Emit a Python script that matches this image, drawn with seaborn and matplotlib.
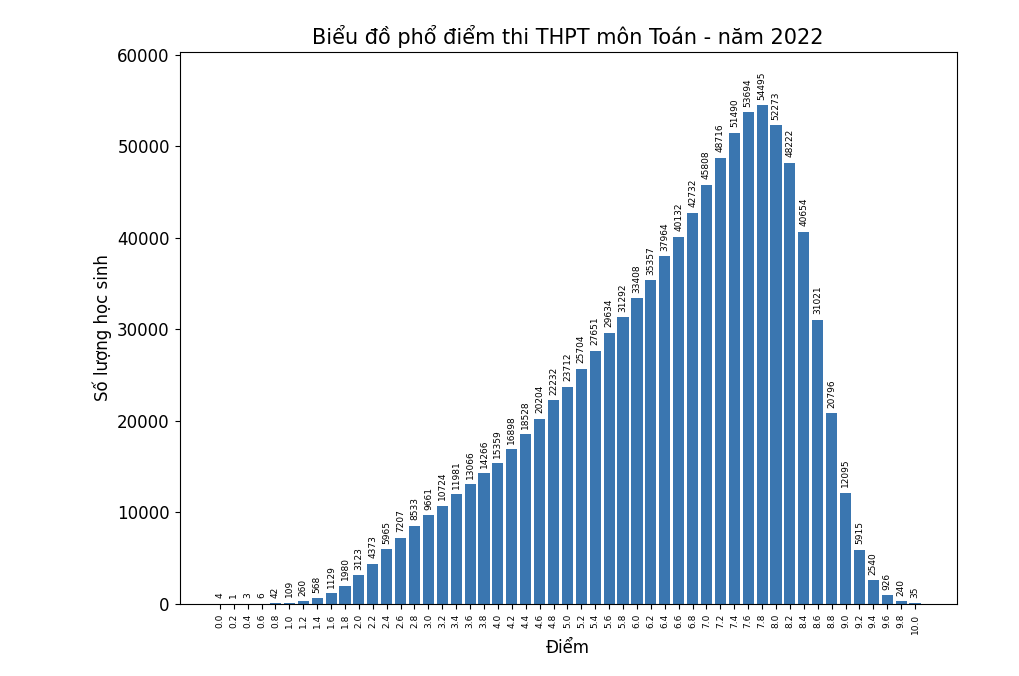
import matplotlib
matplotlib.use("Agg")
import matplotlib.pyplot as plt
import seaborn as sns
import pandas as pd

scores = ["%.1f" % (i / 5) for i in range(51)]
counts = [4, 1, 3, 6, 42, 109, 260, 568, 1129, 1980, 3123, 4373, 5965, 7207, 8533,
          9661, 10724, 11981, 13066, 14266, 15359, 16898, 18528, 20204, 22232, 23712,
          25704, 27651, 29634, 31292, 33408, 35357, 37964, 40132, 42732, 45808, 48716,
          51490, 53694, 54495, 52273, 48222, 40654, 31021, 20796, 12095, 5915, 2540,
          926, 240, 35]

df = pd.DataFrame({"Điểm": scores, "n": counts})
fig = plt.figure(figsize=(10.2, 6.76), dpi=100)
ax = fig.add_axes([0.176, 0.107, 0.762, 0.816])
sns.barplot(data=df, x="Điểm", y="n", color="#3a76b0", saturation=1, width=0.8, ax=ax)
for p, v in zip(ax.patches, counts):
    ax.annotate(str(v), (p.get_x() + p.get_width() / 2, p.get_height()),
                xytext=(0, 4), textcoords="offset points", ha="center", va="bottom",
                rotation=90, fontsize=6.5)
ax.tick_params(axis="x", labelrotation=90, labelsize=6.5)
ax.tick_params(axis="y", labelsize=12)
ax.set_xlabel("Điểm", fontsize=12)
ax.set_ylabel("Số lượng học sinh", fontsize=12)
ax.set_title("Biểu đồ phổ điểm thi THPT môn Toán - năm 2022", fontsize=15)
ax.set_ylim(0, 60300)
ax.set_xlim(-2.9, 53.0)
fig.savefig("out.png", dpi=100)
